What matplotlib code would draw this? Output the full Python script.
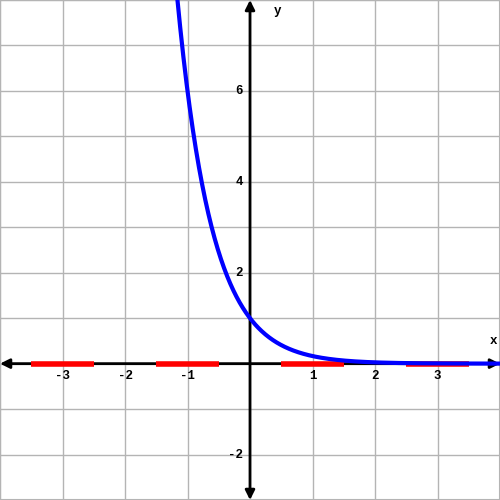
import numpy as np
import matplotlib.pyplot as plt

# function y = base ** (-x)
base = 6.0
x_range = (-4, 4)
y_range = (-3, 8)

x_ticks = [-3, -2, -1, 1, 2, 3]
y_ticks = [-2, 2, 4, 6]

# red segments along the x-axis
red_starts = [-3.5, -1.5, 0.5, 2.5]
red_ends = [-2.5, -0.5, 1.5, 3.5]

fig = plt.figure(figsize=(5, 5), dpi=100)
ax = fig.add_axes([0, 0, 1, 1])
ax.set_xlim(*x_range)
ax.set_ylim(*y_range)

ax.set_xticks(np.arange(x_range[0], x_range[1] + 1))
ax.set_yticks(np.arange(y_range[0], y_range[1] + 1))
ax.grid(True, color="#b4b4b4", linewidth=1)
ax.tick_params(length=0, labelbottom=False, labelleft=False)
for spine in ax.spines.values():
    spine.set_color("#b4b4b4")
    spine.set_linewidth(1.5)

arrow = dict(arrowstyle="<|-|>", color="black", lw=2, mutation_scale=14,
             shrinkA=0, shrinkB=0)
ax.annotate("", xy=(x_range[1], 0), xytext=(x_range[0], 0),
            arrowprops=arrow, zorder=3)
ax.annotate("", xy=(0, y_range[1]), xytext=(0, y_range[0]),
            arrowprops=arrow, zorder=3)

ax.hlines([0] * len(red_starts), red_starts, red_ends, color="red",
          linewidth=4, zorder=4)

xs = np.linspace(x_range[0], x_range[1], 800)
ax.plot(xs, base ** (-xs), color="blue", linewidth=3, zorder=5)

font = dict(family="Liberation Mono", weight="bold", fontsize=9)
for t in x_ticks:
    ax.annotate(str(t), (t, 0), xytext=(0, -9), textcoords="offset points",
                ha="center", va="center", **font)
for t in y_ticks:
    ax.annotate(str(t), (0, t), xytext=(-5, 0), textcoords="offset points",
                ha="right", va="center", **font)

ax.text(3.9, 0.5, "x", ha="center", va="center", **font)
ax.text(0.44, 7.75, "y", ha="center", va="center", **font)

fig.savefig("out.png", dpi=100)
